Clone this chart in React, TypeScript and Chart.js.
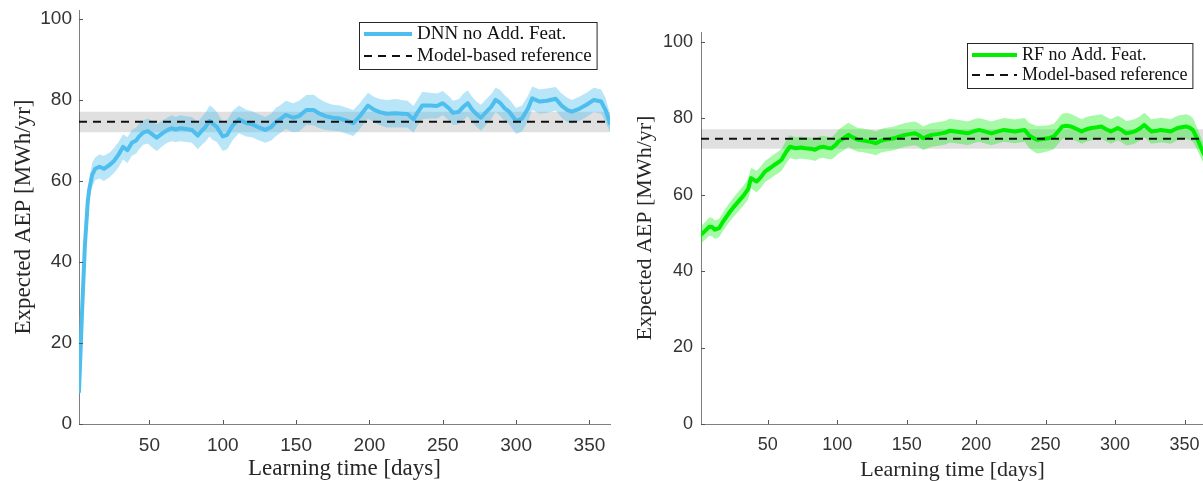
import React, { useEffect, useRef } from "react";
import { Chart, registerables } from "chart.js";

Chart.register(...registerables);

// ---------- data ----------
const dayStart = 2;
const dayEnd = 364;
const xTickValues = [50, 100, 150, 200, 250, 300, 350];
const yTickValues = [0, 20, 40, 60, 80, 100];

const refValue = 74.6;
const refUpper = 77.1;
const refLower = 72.0;

const dnnDays = [2, 4, 6, 8, 9, 11, 13, 16, 19, 23, 26, 29, 32, 35, 38, 41, 43, 46, 49, 52, 55, 59, 62, 65, 68, 71, 75, 79, 83, 86, 88, 91, 93, 96, 100, 103, 107, 111, 116, 120, 124, 129, 133, 136, 139, 143, 148, 152, 157, 162, 166, 170, 175, 180, 185, 189, 193, 196, 199, 203, 207, 212, 218, 222, 226, 230, 233, 236, 241, 246, 250, 254, 257, 261, 264, 267, 270, 273, 276, 279, 283, 286, 289, 292, 295, 300, 304, 308, 311, 316, 321, 327, 331, 335, 338, 343, 348, 353, 358, 361, 364];
const dnnMean = [8, 27, 44, 55, 58, 61.5, 63, 63.5, 63, 64, 65, 66.5, 68.4, 67.6, 69.4, 70, 71, 72, 72.3, 71.5, 70.7, 71.8, 72.5, 73, 72.7, 73, 72.8, 72.6, 71.2, 72.5, 73.2, 74.8, 74.2, 73.3, 71, 71.4, 73.8, 75.2, 74.3, 74, 73.3, 72.6, 73.3, 74.5, 75.2, 76.3, 75.6, 76, 77.5, 77.5, 76.6, 76, 75.6, 75.4, 74.8, 74.3, 75.8, 77.2, 78.6, 77.6, 77, 76.6, 76.7, 76.6, 76.5, 75.2, 77, 78.6, 78.6, 78.5, 79.2, 78, 76.8, 77.1, 78.3, 79.2, 77.6, 76.5, 75.6, 76.8, 78.3, 80, 79.3, 78, 77.2, 74.8, 75.4, 77.8, 80.4, 79.6, 79.8, 80.3, 78.6, 77.5, 77.1, 77.8, 78.8, 80, 79.6, 77.5, 74.2];
const dnnUpper = [9, 28.5, 45.5, 57, 60.5, 64.5, 65.8, 66.5, 66.2, 67, 68.2, 69.6, 71.5, 70.8, 72.6, 73.2, 74.2, 75, 75.4, 74.8, 74, 75, 75.6, 76.2, 75.8, 76.2, 76, 75.8, 74.6, 76, 76.8, 78.6, 78.2, 77, 74.6, 75, 77.4, 78.6, 77.6, 77.2, 76.5, 75.8, 76.6, 78, 78.6, 79.8, 79.2, 79.8, 81.2, 81.3, 80.2, 79.4, 78.8, 78.6, 78, 77.5, 79, 80.4, 81.8, 80.8, 80.2, 80, 80.2, 80, 79.8, 78.5, 80.2, 82, 81.8, 81.6, 82.2, 81, 79.8, 80.2, 81.5, 82.4, 80.8, 79.6, 78.8, 80, 81.4, 83, 82.5, 81.2, 80.3, 78, 78.6, 81, 83.3, 82.6, 82.8, 83.2, 81.6, 80.5, 80, 80.8, 81.8, 83, 82.6, 80.5, 76.5];
const dnnLower = [7, 25.5, 42.5, 53, 55.5, 58.5, 60.2, 60.6, 60, 61, 62, 63.4, 65.3, 64.4, 66.2, 66.8, 67.8, 69, 69.2, 68.2, 67.4, 68.6, 69.4, 69.8, 69.6, 69.8, 69.6, 69.4, 67.8, 69, 69.6, 71, 70.2, 69.6, 67.4, 67.8, 70.2, 71.8, 71, 70.8, 70.1, 69.4, 70, 71, 71.8, 72.8, 72, 72.2, 73.8, 73.7, 73, 72.6, 72.4, 72.2, 71.6, 71.1, 72.6, 74, 75.4, 74.4, 73.8, 73.2, 73.2, 73.2, 73.2, 71.9, 73.8, 75.2, 75.4, 75.4, 76.2, 75, 73.8, 74, 75.1, 76, 74.4, 73.4, 72.4, 73.6, 75.2, 77, 76.1, 74.8, 74.1, 71.6, 72.2, 74.6, 77.5, 76.6, 76.8, 77.4, 75.6, 74.5, 74.2, 74.8, 75.8, 77, 76.6, 74.5, 72];

const rfDays = [2, 5, 8, 10, 12, 15, 18, 22, 25, 29, 33, 36, 38, 42, 45, 48, 52, 55, 58, 60, 63, 66, 70, 74, 77, 81, 84, 87, 90, 93, 96, 99, 101, 105, 108, 111, 115, 118, 122, 125, 128, 131, 134, 138, 141, 145, 149, 152, 156, 159, 162, 165, 168, 172, 175, 178, 181, 185, 189, 194, 198, 202, 206, 211, 216, 220, 224, 228, 231, 235, 238, 241, 244, 248, 252, 256, 259, 262, 265, 268, 272, 276, 279, 283, 287, 290, 294, 297, 302, 305, 308, 311, 314, 318, 321, 324, 326, 330, 333, 337, 340, 345, 348, 351, 354, 356, 359, 362, 364];
const rfMean = [49.5, 50.5, 51.6, 51.5, 50.8, 51.2, 53, 55.1, 56.5, 58.2, 59.9, 61.5, 64.3, 63.4, 64.5, 66, 67, 67.8, 68.5, 69.1, 71, 72.5, 72.1, 72.3, 72.1, 72, 71.7, 72.3, 72.5, 72.2, 72.1, 73, 73.9, 74.8, 75.6, 75, 74.3, 74.2, 73.9, 73.7, 73.4, 74, 74.3, 74.5, 74.7, 75.2, 75.6, 75.8, 76, 75.5, 74.7, 75.2, 75.6, 75.8, 76, 76.2, 76.7, 76.5, 76.3, 76, 76.5, 76.9, 76.5, 76, 76.5, 76.9, 76.7, 76.5, 76.7, 76.9, 75.5, 74.8, 74.3, 74.5, 74.7, 75.2, 76.5, 77.8, 78, 77.8, 77.2, 76.5, 77, 77.4, 77.6, 77.8, 77, 76.5, 77.4, 76.8, 76, 76.2, 76.5, 77.3, 78.2, 77.2, 76.5, 76.7, 76.9, 76.7, 76.5, 77.4, 77.6, 77.8, 77.4, 76.9, 74.7, 72.1, 70.5];
const rfUpper = [51.8, 52.8, 54, 53.9, 53.2, 53.6, 55.4, 57.6, 59, 60.8, 62.5, 64.2, 67, 66.2, 67.3, 68.8, 69.8, 70.6, 71.4, 72, 74, 75.5, 75, 75.2, 75, 74.9, 74.6, 75.2, 75.4, 75.1, 75, 76, 77, 78, 78.8, 78.2, 77.4, 77.3, 77, 76.8, 76.5, 77.1, 77.4, 77.6, 77.8, 78.3, 78.7, 78.9, 79.1, 78.6, 77.8, 78.3, 78.7, 78.9, 79.1, 79.3, 79.8, 79.6, 79.4, 79.1, 79.6, 80, 79.6, 79.1, 79.6, 80, 79.8, 79.6, 79.8, 80, 78.8, 78.3, 77.9, 78, 78.1, 78.5, 79.8, 81.1, 81.3, 81.1, 80.4, 79.7, 80.2, 80.6, 80.8, 81, 80.2, 79.7, 80.6, 80, 79.2, 79.4, 79.7, 80.5, 81.4, 80.4, 79.7, 79.9, 80.1, 79.9, 79.7, 80.6, 80.8, 81, 80.6, 80, 77.6, 74.8, 73];
const rfLower = [47.2, 48.2, 49.2, 49.1, 48.4, 48.8, 50.6, 52.6, 54, 55.6, 57.3, 58.8, 61.6, 60.6, 61.7, 63.2, 64.2, 65, 65.6, 66.2, 68, 69.5, 69.2, 69.4, 69.2, 69.1, 68.8, 69.4, 69.6, 69.3, 69.2, 70, 70.8, 71.6, 72.4, 71.8, 71.2, 71.1, 70.8, 70.6, 70.3, 70.9, 71.2, 71.4, 71.6, 72.1, 72.5, 72.7, 72.9, 72.4, 71.6, 72.1, 72.5, 72.7, 72.9, 73.1, 73.6, 73.4, 73.2, 72.9, 73.4, 73.8, 73.4, 72.9, 73.4, 73.8, 73.6, 73.4, 73.6, 73.8, 72.2, 71.3, 70.7, 71, 71.3, 71.9, 73.2, 74.5, 74.7, 74.5, 74, 73.3, 73.8, 74.2, 74.4, 74.6, 73.8, 73.3, 74.2, 73.6, 72.8, 73, 73.3, 74.1, 75, 74, 73.3, 73.5, 73.7, 73.5, 73.3, 74.2, 74.4, 74.6, 74.2, 73.8, 71.8, 69.4, 68];

const xTitle = "Learning time [days]";
const yTitle = "Expected AEP [MWh/yr]";
const refLabel = "Model-based reference";

// ---------- helpers ----------
const pts = (xs: number[], ys: number[]) => xs.map((x, i) => ({ x, y: ys[i] }));
const flat = (v: number) => [{ x: dayStart, y: v }, { x: dayEnd, y: v }];

const innerTicks = {
  id: "innerTicks",
  afterDatasetsDraw(chart: any) {
    const { ctx, chartArea, scales } = chart;
    ctx.save();
    ctx.strokeStyle = "#555";
    ctx.lineWidth = 1;
    scales.x.ticks.forEach((t: any) => {
      const px = Math.round(scales.x.getPixelForValue(t.value)) + 0.5;
      ctx.beginPath();
      ctx.moveTo(px, chartArea.bottom);
      ctx.lineTo(px, chartArea.bottom - 4);
      ctx.stroke();
    });
    scales.y.ticks.forEach((t: any) => {
      const py = Math.round(scales.y.getPixelForValue(t.value)) + 0.5;
      ctx.beginPath();
      ctx.moveTo(chartArea.left, py);
      ctx.lineTo(chartArea.left + 4, py);
      ctx.stroke();
    });
    ctx.restore();
  },
};

const boxLegend = {
  id: "boxLegend",
  afterDraw(chart: any, _args: any, opts: any) {
    const { ctx, chartArea } = chart;
    ctx.save();
    ctx.font = `${opts.fontSize}px "Liberation Serif"`;
    const tw = Math.max(ctx.measureText(opts.label).width, ctx.measureText(opts.refLabel).width);
    const pad = 5;
    const gap = 5;
    const boxW = pad + opts.sample + gap + tw + pad;
    const right = chartArea.right - opts.insetRight;
    const top = chartArea.top + opts.insetTop;
    const left = Math.round(right - boxW);
    ctx.fillStyle = "#fff";
    ctx.fillRect(left, top, boxW, opts.boxH);
    ctx.strokeStyle = "#262626";
    ctx.lineWidth = 1;
    ctx.strokeRect(left + 0.5, top + 0.5, boxW, opts.boxH);
    const y1 = top + 12;
    const y2 = y1 + opts.rowH;
    ctx.beginPath();
    ctx.strokeStyle = opts.color;
    ctx.lineWidth = 4;
    ctx.moveTo(left + pad, y1);
    ctx.lineTo(left + pad + opts.sample, y1);
    ctx.stroke();
    ctx.beginPath();
    ctx.strokeStyle = "#111";
    ctx.lineWidth = 2;
    ctx.setLineDash([8, 6]);
    ctx.moveTo(left + pad, y2);
    ctx.lineTo(left + pad + opts.sample, y2);
    ctx.stroke();
    ctx.setLineDash([]);
    ctx.fillStyle = "#111";
    ctx.textAlign = "left";
    ctx.textBaseline = "middle";
    ctx.fillText(opts.label, left + pad + opts.sample + gap, y1);
    ctx.fillText(opts.refLabel, left + pad + opts.sample + gap, y2);
    ctx.restore();
  },
};

type PanelCfg = {
  left: number; top: number; width: number; height: number;
  yAxisWidth: number; padTop: number; padRight: number; yMax: number;
  tickSize: number; titleSize: number; yTitlePad: number; xTitlePad: number; tickPadY: number;
  legendSize: number; legendRowH: number; legendBoxH: number; legendSample: number;
  legendInsetTop: number; legendInsetRight: number;
  label: string; color: string; band: string;
  days: number[]; mean: number[]; upper: number[]; lower: number[];
};

function Panel({ cfg }: { cfg: PanelCfg }) {
  const ref = useRef<HTMLCanvasElement>(null);
  useEffect(() => {
    const chart = new Chart(ref.current as HTMLCanvasElement, {
      type: "line",
      data: {
        datasets: [
          { data: flat(refValue), borderColor: "#111", borderWidth: 2, borderDash: [8, 6], pointRadius: 0, fill: false, order: 0 },
          { data: pts(cfg.days, cfg.mean), borderColor: cfg.color, borderWidth: 4, pointRadius: 0, fill: false, order: 1, borderJoinStyle: "round", borderCapStyle: "round" },
          { data: pts(cfg.days, cfg.upper), borderWidth: 0, borderColor: "rgba(0,0,0,0)", backgroundColor: cfg.band, pointRadius: 0, fill: "+1", order: 2 },
          { data: pts(cfg.days, cfg.lower), borderWidth: 0, borderColor: "rgba(0,0,0,0)", pointRadius: 0, fill: false, order: 3 },
          { data: flat(refUpper), borderWidth: 0, borderColor: "rgba(0,0,0,0)", backgroundColor: "rgba(0,0,0,0.12)", pointRadius: 0, fill: "+1", order: 4 },
          { data: flat(refLower), borderWidth: 0, borderColor: "rgba(0,0,0,0)", pointRadius: 0, fill: false, order: 5 },
        ],
      } as any,
      options: {
        responsive: false,
        animation: false,
        devicePixelRatio: 1,
        layout: { padding: { left: 0, top: cfg.padTop, right: cfg.padRight, bottom: 0 } },
        plugins: {
          legend: { display: false },
          tooltip: { enabled: false },
          boxLegend: {
            label: cfg.label, refLabel, color: cfg.color, fontSize: cfg.legendSize,
            rowH: cfg.legendRowH, boxH: cfg.legendBoxH, sample: cfg.legendSample,
            insetTop: cfg.legendInsetTop, insetRight: cfg.legendInsetRight,
          },
        } as any,
        scales: {
          x: {
            type: "linear",
            min: dayStart,
            max: dayEnd,
            afterBuildTicks: (s: any) => { s.ticks = xTickValues.map((v) => ({ value: v })); },
            afterFit: (s: any) => { s.height = 57; },
            grid: { display: false, drawTicks: false },
            border: { display: true, color: "#7f7f7f", width: 1 },
            ticks: { font: { family: "Liberation Sans", size: cfg.tickSize }, color: "#333", padding: 10, maxRotation: 0, autoSkip: false },
            title: { display: true, text: xTitle, color: "#262626", font: { family: "Liberation Serif", size: cfg.titleSize }, padding: { top: 0, bottom: cfg.xTitlePad } },
          },
          y: {
            type: "linear",
            min: 0,
            max: cfg.yMax,
            afterBuildTicks: (s: any) => { s.ticks = yTickValues.map((v) => ({ value: v })); },
            afterFit: (s: any) => { s.width = cfg.yAxisWidth; },
            grid: { display: false, drawTicks: false },
            border: { display: true, color: "#7f7f7f", width: 1 },
            ticks: { font: { family: "Liberation Sans", size: cfg.tickSize }, color: "#333", padding: cfg.tickPadY },
            title: { display: true, text: yTitle, color: "#262626", font: { family: "Liberation Serif", size: cfg.titleSize }, padding: { top: cfg.yTitlePad, bottom: 0 } },
          },
        },
      } as any,
      plugins: [innerTicks, boxLegend] as any,
    });
    return () => chart.destroy();
  }, [cfg]);
  return (
    <canvas
      ref={ref}
      width={cfg.width}
      height={cfg.height}
      style={{ position: "absolute", left: cfg.left, top: cfg.top, width: cfg.width, height: cfg.height }}
    />
  );
}

const leftCfg: PanelCfg = {
  left: 0, top: -20, width: 620, height: 501,
  yAxisWidth: 79, padTop: 30, padRight: 10, yMax: 102.2,
  tickSize: 19, titleSize: 23, yTitlePad: 10, xTitlePad: -2, tickPadY: 7,
  legendSize: 19, legendRowH: 22, legendBoxH: 47, legendSample: 48,
  legendInsetTop: 12, legendInsetRight: 13,
  label: "DNN no Add. Feat.", color: "#4DBEEE", band: "rgba(77,190,238,0.4)",
  days: dnnDays, mean: dnnMean, upper: dnnUpper, lower: dnnLower,
};

const rightCfg: PanelCfg = {
  left: 620, top: 0, width: 594, height: 481,
  yAxisWidth: 81, padTop: 32, padRight: 10, yMax: 102.5,
  tickSize: 18, titleSize: 22, yTitlePad: 12, xTitlePad: -2, tickPadY: 8,
  legendSize: 18, legendRowH: 20, legendBoxH: 45, legendSample: 45,
  legendInsetTop: 11, legendInsetRight: 12,
  label: "RF no Add. Feat.", color: "#00EE00", band: "rgba(0,238,0,0.35)",
  days: rfDays, mean: rfMean, upper: rfUpper, lower: rfLower,
};

export default function App() {
  return (
    <div style={{ position: "absolute", left: 0, top: 0, width: 1203, height: 481, overflow: "hidden", background: "#fff" }}>
      <Panel cfg={leftCfg} />
      <Panel cfg={rightCfg} />
    </div>
  );
}
